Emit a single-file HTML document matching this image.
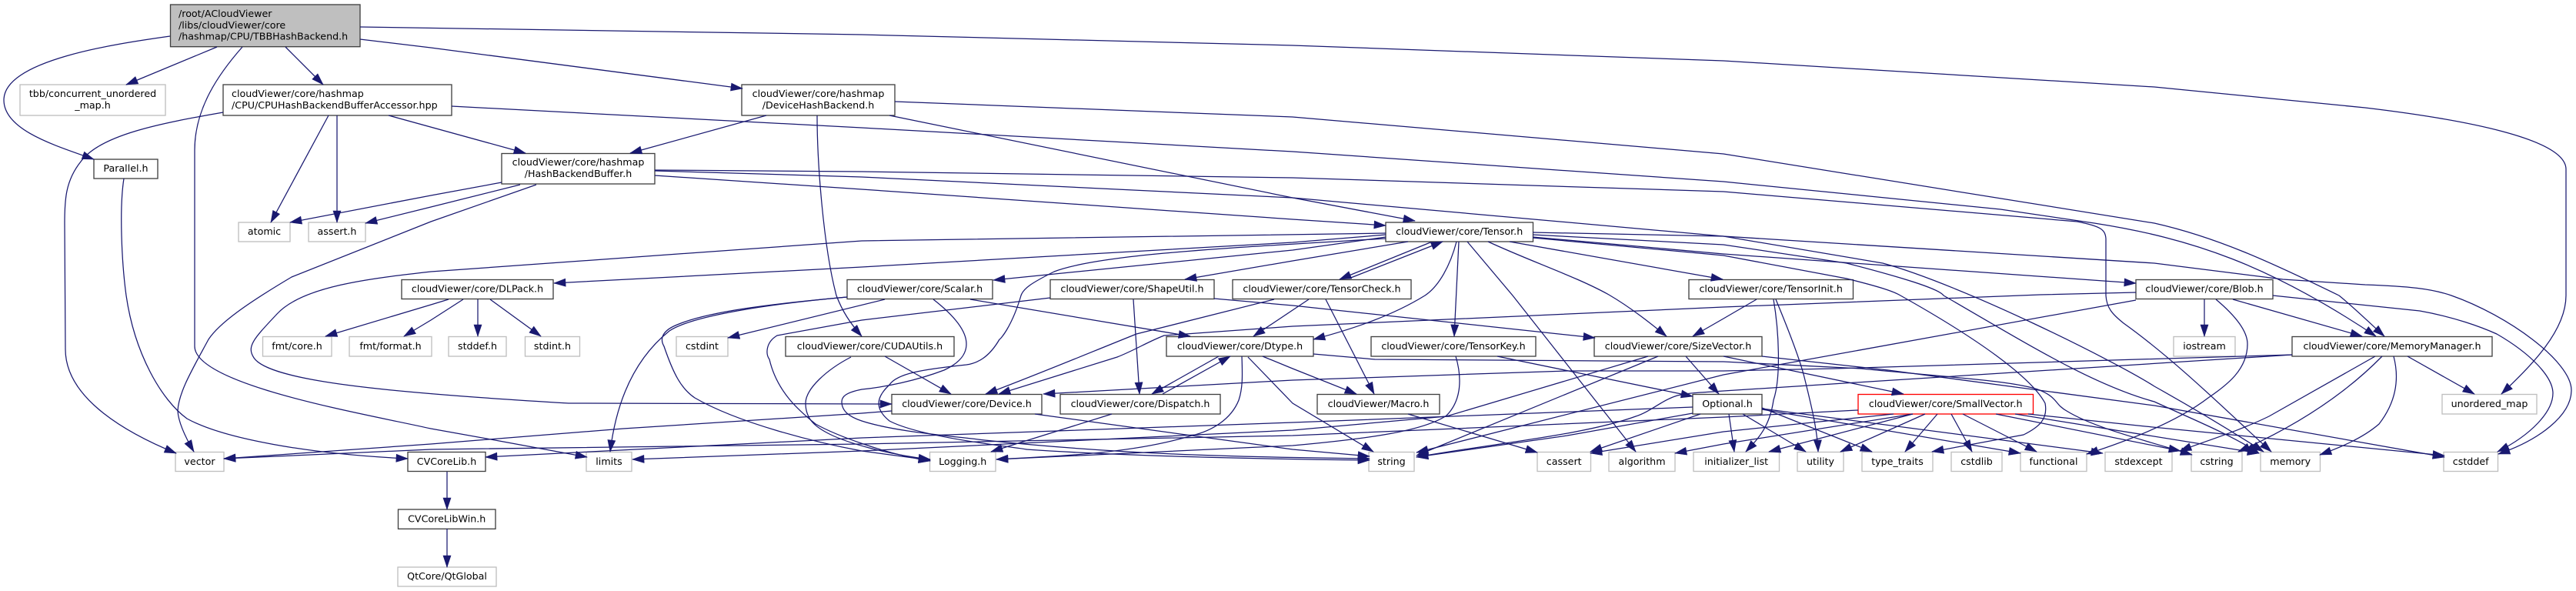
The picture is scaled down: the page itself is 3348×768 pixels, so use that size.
<!DOCTYPE html>
<html><head><meta charset="utf-8"><title>TBBHashBackend.h include graph</title>
<style>
html,body{margin:0;padding:0;background:#fff;width:3348px;height:768px;overflow:hidden}
svg{display:block}
text{font-family:"DejaVu Sans","Liberation Sans",sans-serif;font-size:12.67px;fill:#000;text-anchor:middle}
text.l{text-anchor:start}
rect{fill:#fff;stroke:#404040;stroke-width:1.33}
rect.g{stroke:#bfbfbf}
rect.r{stroke:#ff0000}
rect.k{fill:#bfbfbf}
#e path{fill:none;stroke:#191970;stroke-width:1.25}
</style></head><body>
<svg xmlns="http://www.w3.org/2000/svg" width="3348" height="768" viewBox="0 0 3348 768">
<defs><marker id="a" markerUnits="userSpaceOnUse" markerWidth="18" markerHeight="14" refX="15" refY="7" orient="auto" overflow="visible"><path d="M0,2L15,7L0,12z" fill="#191970" stroke="#191970" stroke-width="0.6"/></marker></defs>
<g id="n">
<rect class="k" x="221.5" y="6" width="246.5" height="54.7"/><text class="l" x="232" y="22">/root/ACloudViewer</text><text class="l" x="232" y="37">/libs/cloudViewer/core</text><text class="l" x="232" y="51.5">/hashmap/CPU/TBBHashBackend.h</text>
<rect class="g" x="26" y="110" width="189" height="40"/><text x="120.5" y="126">tbb/concurrent_unordered</text><text x="120.5" y="141">_map.h</text>
<rect x="290" y="110" width="297" height="40"/><text class="l" x="301" y="126">cloudViewer/core/hashmap</text><text class="l" x="301" y="141">/CPU/CPUHashBackendBufferAccessor.hpp</text>
<rect x="964" y="110" width="199" height="40"/><text x="1063.5" y="126">cloudViewer/core/hashmap</text><text x="1063.5" y="141">/DeviceHashBackend.h</text>
<rect x="652" y="199.5" width="199" height="39.5"/><text x="751.5" y="215">cloudViewer/core/hashmap</text><text x="751.5" y="230">/HashBackendBuffer.h</text>
<rect x="122" y="207" width="83" height="25"/><text x="163.5" y="223">Parallel.h</text>
<rect class="g" x="310" y="289" width="67" height="25"/><text x="343.5" y="305">atomic</text>
<rect class="g" x="401" y="289" width="74" height="25"/><text x="438" y="305">assert.h</text>
<rect x="1801" y="289" width="191.5" height="25"/><text x="1896.7" y="305">cloudViewer/core/Tensor.h</text>
<rect x="522" y="363.5" width="197" height="25"/><text x="620.5" y="379.5">cloudViewer/core/DLPack.h</text>
<rect x="1101" y="363.5" width="189" height="25"/><text x="1195.5" y="379.5">cloudViewer/core/Scalar.h</text>
<rect x="1365" y="363.5" width="213" height="25"/><text x="1471.5" y="379.5">cloudViewer/core/ShapeUtil.h</text>
<rect x="1602" y="363.5" width="232" height="25"/><text x="1718" y="379.5">cloudViewer/core/TensorCheck.h</text>
<rect x="2195" y="363.5" width="213.5" height="25"/><text x="2301.7" y="379.5">cloudViewer/core/TensorInit.h</text>
<rect x="2776" y="363.5" width="178" height="25"/><text x="2865" y="379.5">cloudViewer/core/Blob.h</text>
<rect class="g" x="341.5" y="437.5" width="89.5" height="25.5"/><text x="386" y="454">fmt/core.h</text>
<rect class="g" x="454" y="437.5" width="107" height="25.5"/><text x="507.5" y="454">fmt/format.h</text>
<rect class="g" x="583" y="437.5" width="75" height="25.5"/><text x="620.5" y="454">stddef.h</text>
<rect class="g" x="682.5" y="437.5" width="71" height="25.5"/><text x="718" y="454">stdint.h</text>
<rect class="g" x="879" y="437.5" width="67" height="25.5"/><text x="912.5" y="454">cstdint</text>
<rect x="1021" y="437.5" width="219" height="25.5"/><text x="1130.5" y="454">cloudViewer/core/CUDAUtils.h</text>
<rect x="1516" y="437.5" width="191" height="25.5"/><text x="1611.5" y="454">cloudViewer/core/Dtype.h</text>
<rect x="1782" y="437.5" width="214" height="25.5"/><text x="1889" y="454">cloudViewer/core/TensorKey.h</text>
<rect x="2072" y="437.5" width="218" height="25.5"/><text x="2181" y="454">cloudViewer/core/SizeVector.h</text>
<rect class="g" x="2825" y="437.5" width="80" height="25.5"/><text x="2865" y="454">iostream</text>
<rect x="2979" y="437.5" width="260" height="25.5"/><text x="3109" y="454">cloudViewer/core/MemoryManager.h</text>
<rect x="1159" y="512.5" width="195" height="25.5"/><text x="1256.5" y="529">cloudViewer/core/Device.h</text>
<rect x="1378" y="512.5" width="208" height="25.5"/><text x="1482" y="529">cloudViewer/core/Dispatch.h</text>
<rect x="1712" y="512.5" width="159" height="25.5"/><text x="1791.5" y="529">cloudViewer/Macro.h</text>
<rect x="2200" y="512.5" width="90" height="25.5"/><text x="2245" y="529">Optional.h</text>
<rect class="r" x="2415" y="512.5" width="227.5" height="25.5"/><text x="2528.7" y="529">cloudViewer/core/SmallVector.h</text>
<rect class="g" x="3174" y="512.5" width="123" height="25.5"/><text x="3235.5" y="529">unordered_map</text>
<rect class="g" x="228" y="587.5" width="63" height="25"/><text x="259.5" y="604">vector</text>
<rect x="530" y="587.5" width="101" height="25"/><text x="580.5" y="604">CVCoreLib.h</text>
<rect class="g" x="762" y="587.5" width="59" height="25"/><text x="791.5" y="604">limits</text>
<rect class="g" x="1208.5" y="587.5" width="85.5" height="25"/><text x="1251.2" y="604">Logging.h</text>
<rect class="g" x="1779" y="587.5" width="59" height="25"/><text x="1808.5" y="604">string</text>
<rect class="g" x="1998" y="587.5" width="69.5" height="25"/><text x="2032.7" y="604">cassert</text>
<rect class="g" x="2091" y="587.5" width="86" height="25"/><text x="2134" y="604">algorithm</text>
<rect class="g" x="2201" y="587.5" width="111.5" height="25"/><text x="2256.7" y="604">initializer_list</text>
<rect class="g" x="2336" y="587.5" width="60" height="25"/><text x="2366" y="604">utility</text>
<rect class="g" x="2420" y="587.5" width="92" height="25"/><text x="2466" y="604">type_traits</text>
<rect class="g" x="2536" y="587.5" width="66" height="25"/><text x="2569" y="604">cstdlib</text>
<rect class="g" x="2626" y="587.5" width="86" height="25"/><text x="2669" y="604">functional</text>
<rect class="g" x="2736" y="587.5" width="87" height="25"/><text x="2779.5" y="604">stdexcept</text>
<rect class="g" x="2848" y="587.5" width="66" height="25"/><text x="2881" y="604">cstring</text>
<rect class="g" x="2938" y="587.5" width="77.5" height="25"/><text x="2976.7" y="604">memory</text>
<rect class="g" x="3176" y="587.5" width="70.5" height="25"/><text x="3211.2" y="604">cstddef</text>
<rect x="517.5" y="662" width="126.5" height="25.3"/><text x="580.7" y="678.5">CVCoreLibWin.h</text>
<rect class="g" x="517" y="737" width="128" height="25"/><text x="581" y="753">QtCore/QtGlobal</text>
</g>
<g id="e" marker-end="url(#a)">
<path d="M221,47C150,57 5,78 5,130C5,170 75,190 122,207"/>
<path d="M282,61L164,110"/>
<path d="M315,61C285,95 253,140 253,195L253,450C253,500 470,537 560,557L638,571L763,594"/>
<path d="M371,61L420,110"/>
<path d="M468,51L560,62L965,115"/>
<path d="M468,35L1120,45L1680,59L2240,79L2800,113L3074,140C3200,155 3335,180 3335,220L3335,384C3335,430 3290,475 3251,512"/>
<path d="M290,146C210,160 130,175 105,210C85,235 84,260 84,290L85,454C85,520 170,565 229,589"/>
<path d="M427,150L352,289"/>
<path d="M438,150L438,289"/>
<path d="M505,150L683,199"/>
<path d="M587,138L1120,166L1680,197L2240,236L2600,272L2722,290C2850,310 2950,345 3088,437"/>
<path d="M652,237L560,254L377,289"/>
<path d="M676,240L560,269L475,290"/>
<path d="M697,240L560,288L379,360C320,395 285,420 271,441C250,480 232,510 231,534C232,550 242,570 252,587"/>
<path d="M851,221L1120,223L1680,231L2240,249L2700,288C2730,294 2736,298 2737,310L2737,384C2738,400 2745,408 2760,420C2830,470 2900,540 2952,587"/>
<path d="M851,222L1120,230L1680,257L2240,307L2447,342C2550,370 2750,470 2800,502C2850,530 2900,560 2942,587"/>
<path d="M851,228L1120,246L1680,285L1801,293"/>
<path d="M996,150L819,199"/>
<path d="M1062,150C1062,210 1070,320 1087,384C1095,405 1105,420 1120,437"/>
<path d="M1156,150L1680,257L1839,287"/>
<path d="M1163,132L1680,152L2240,200L2800,290C2880,308 2950,340 3040,384C3060,400 3080,420 3099,437"/>
<path d="M161,232C155,270 158,340 164,384C175,460 210,520 243,544C290,570 400,590 530,596"/>
<path d="M581,613L581,662"/>
<path d="M581,687L581,737"/>
<path d="M583,389L560,396L423,437"/>
<path d="M602,389L560,416L525,437"/>
<path d="M621,389L621,437"/>
<path d="M637,389L703,437"/>
<path d="M1801,305L1680,315L1120,347L720,368"/>
<path d="M1801,303L1120,313L560,353C480,362 393,372 360,408C330,440 320,450 330,465C350,495 500,510 739,524L1159,525"/>
<path d="M1801,308L1680,325L1291,364"/>
<path d="M1830,314L1680,339L1540,363"/>
<path d="M1801,310C1600,322 1430,330 1370,353C1340,368 1330,375 1327,384C1315,425 1300,441 1299,441C1285,465 1270,472 1256,474C1200,480 1166,485 1156,500C1140,515 1135,530 1156,547C1200,570 1330,582 1334,584C1450,592 1600,596 1780,598"/>
<path d="M1859,315L1741,363"/>
<path d="M1753,362L1875,314"/>
<path d="M1893,314C1885,345 1870,372 1852,384C1810,410 1760,427 1707,441"/>
<path d="M1896,314L1890,437"/>
<path d="M1907,314L1966,384L2126,587"/>
<path d="M1934,314C1990,340 2050,360 2091,383C2120,400 2145,420 2166,437"/>
<path d="M1962,314L2239,363"/>
<path d="M1992,302L2240,307L2800,342L2967,363L3074,370C3130,372 3160,375 3186,384C3260,410 3342,470 3342,507C3342,540 3300,572 3247,590"/>
<path d="M1992,305L2240,318L2400,342C2470,360 2520,375 2526,384C2640,450 2720,500 2800,522C2850,545 2900,565 2936,589"/>
<path d="M1992,308L2240,330L2776,368"/>
<path d="M1992,309L2240,332L2400,362C2440,372 2460,378 2470,384C2570,440 2640,490 2658,524C2662,545 2650,555 2630,565L2511,587"/>
<path d="M1723,389L1786,512"/>
<path d="M1656,389L1477,434C1400,465 1340,490 1281,512"/>
<path d="M1701,389L1629,437"/>
<path d="M1473,389L1481,512"/>
<path d="M1578,388L1680,397L2073,439"/>
<path d="M1365,387L1120,416L1010,436C995,445 995,460 1000,467C1010,510 1040,535 1060,551C1085,565 1150,590 1209,599"/>
<path d="M1150,389L946,439"/>
<path d="M1101,386C1000,395 900,410 870,430C820,470 800,530 793,587"/>
<path d="M1101,386C1000,395 920,405 880,422C855,432 860,445 863,450C875,485 885,505 903,517C960,550 1060,575 1120,586L1209,598"/>
<path d="M1261,389L1547,437"/>
<path d="M1213,389C1240,410 1256,430 1256,447C1256,465 1240,475 1227,481C1190,495 1150,503 1120,506C1100,510 1094,515 1094,522C1094,535 1105,542 1120,547C1160,560 1220,565 1280,572C1450,590 1600,594 1780,596"/>
<path d="M1150,463L1236,512"/>
<path d="M1106,464C1075,480 1047,505 1047,524C1047,545 1060,555 1078,564C1100,575 1150,590 1209,597"/>
<path d="M1584,463L1497,512"/>
<path d="M1511,512L1599,463"/>
<path d="M1641,463L1680,479L1763,512"/>
<path d="M1622,464L1680,524L1785,587"/>
<path d="M1614,463C1615,490 1615,505 1610,520C1600,545 1575,560 1549,566C1470,590 1380,592 1295,597"/>
<path d="M1707,460L1787,467L2240,470L2419,479C2530,490 2620,495 2651,507C2675,517 2670,525 2686,534C2720,555 2780,570 2849,591"/>
<path d="M1445,538L1288,587"/>
<path d="M1345,538L1680,584L1780,593"/>
<path d="M1159,534L1120,537L810,557L560,577L291,596"/>
<path d="M2142,463L1880,541L1680,559L1120,586L822,597"/>
<path d="M2155,463L1841,592"/>
<path d="M2191,463L2234,512"/>
<path d="M2240,463L2474,512"/>
<path d="M2290,463L2454,481L2800,527L3177,594"/>
<path d="M1946,463L2200,515"/>
<path d="M1892,463C1900,490 1900,520 1880,540C1850,560 1780,570 1680,579L1295,597"/>
<path d="M2283,389L2240,414L2200,437"/>
<path d="M2305,389C2312,430 2315,490 2305,520C2300,555 2285,570 2269,587"/>
<path d="M2308,389C2325,430 2340,470 2345,490C2355,530 2362,560 2363,587"/>
<path d="M1830,538L1998,588"/>
<path d="M2200,529L1680,549L1120,569L631,594"/>
<path d="M2200,537L2037,566L1841,594"/>
<path d="M2210,538L2067,587"/>
<path d="M2247,538L2254,587"/>
<path d="M2265,538L2347,587"/>
<path d="M2290,530L2433,587"/>
<path d="M2290,532L2626,589"/>
<path d="M2290,531L2733,589"/>
<path d="M2415,533L2240,542L1680,566L1120,577L560,584L291,596"/>
<path d="M2461,538L2240,561L2067,589"/>
<path d="M2486,538L2240,577L2177,589"/>
<path d="M2486,538L2299,587"/>
<path d="M2502,538L2392,587"/>
<path d="M2518,538L2476,587"/>
<path d="M2536,538L2563,587"/>
<path d="M2551,538L2647,587"/>
<path d="M2594,538L2834,586"/>
<path d="M2619,538L2936,589"/>
<path d="M2636,538L2788,554L3177,592"/>
<path d="M2776,380L2651,383L2240,399L1859,416L1680,424L1513,436C1490,445 1475,455 1452,464L1298,512"/>
<path d="M2776,390L2240,487L1841,588"/>
<path d="M2865,389L2865,437"/>
<path d="M2902,389L3070,437"/>
<path d="M2880,389C2905,410 2921,430 2921,447C2921,480 2895,500 2870,517C2840,540 2790,565 2712,590"/>
<path d="M2954,384L3145,404C3190,412 3225,425 3245,434C3290,460 3318,490 3318,511C3318,535 3290,565 3246,587"/>
<path d="M2979,461L2383,479L2240,482L2037,482L1680,494L1356,512"/>
<path d="M2979,461L2240,508C2215,510 2195,510 2180,514C2160,520 2145,535 2126,541C2060,565 1950,575 1841,594"/>
<path d="M3087,463L2949,541C2910,560 2870,572 2833,586"/>
<path d="M3096,463C3040,520 2970,560 2909,587"/>
<path d="M3111,463C3118,490 3116,520 3092,551C3070,570 3040,582 3015,591"/>
<path d="M3129,463L3216,512"/>
</g>
</svg>
</body></html>
